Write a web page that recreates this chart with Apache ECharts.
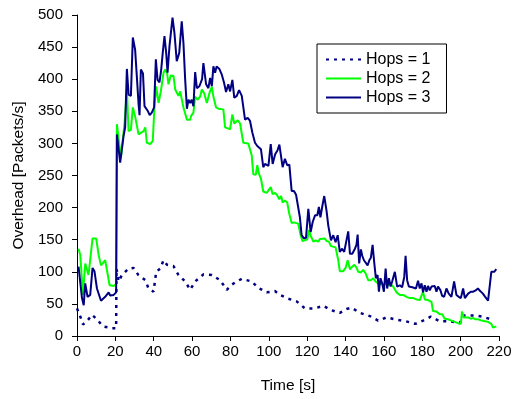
<!DOCTYPE html>
<html>
<head>
<meta charset="utf-8">
<script src="https://cdn.jsdelivr.net/npm/echarts@6/dist/echarts.min.js"></script>
<style>
  html, body { margin: 0; padding: 0; background: #fff; }
  #chart { width: 520px; height: 399px; }
</style>
</head>
<body>
<div id="chart"></div>
<script>
// Overhead measured over time for three hop counts.
const seriesNames = ['Hops = 1', 'Hops = 2', 'Hops = 3'];
const xTicks = [0, 20, 40, 60, 80, 100, 120, 140, 160, 180, 200, 220];
const yTicks = [0, 50, 100, 150, 200, 250, 300, 350, 400, 450, 500];

// Hops = 1
const hops1Time = [0, 2, 3.1, 5.2, 7.8, 10.4, 13.5, 18.2, 20.4, 20.6, 21.7, 23.4, 26.9, 29.5, 32, 35.6, 37.3, 39.9, 41.3, 43.4, 45.1, 46.9, 50.3, 52.9, 56.4, 59, 61.6, 65.9, 70.3, 74.6, 78.1, 80.7, 83.3, 85.9, 91.1, 94.5, 98.9, 103.2, 105.8, 110.2, 114.5, 118.8, 124, 128.4, 132.7, 137, 140.5, 143.2, 147.5, 152.7, 157, 161.4, 165.7, 171.3, 176.4, 180.4, 184.4, 189.1, 194.3, 199.5, 201.8, 207, 211.6, 216.9];
const hops1Value = [43, 28, 18, 23, 33, 26, 15, 12, 12, 105, 85, 95, 105, 106, 95, 87, 74, 69, 100, 105, 118, 111, 109, 95, 85, 72, 85, 96, 95, 87, 72, 80, 85, 89, 85, 75, 68, 70, 64, 58, 54, 43, 43, 47, 40, 36, 42, 44, 36, 31, 24, 29, 26, 23, 19, 24, 30, 23, 23, 20, 32, 32, 30, 25];

// Hops = 2
const hops2Time = [0.8, 1.7, 3.1, 4.3, 6, 6.5, 8.1, 10, 11.3, 12.5, 14.7, 15.5, 17, 19.1, 20.4, 20.8, 21.7, 22.9, 23.8, 24.8, 26, 26.9, 28.1, 29.1, 30.3, 31.2, 32.1, 34.7, 35.6, 36.4, 38.2, 39.5, 40.4, 41.3, 42.5, 43.7, 45.1, 46, 46.9, 47.7, 48.9, 50.3, 51.2, 52.9, 53.8, 54.7, 55.5, 56.4, 57.3, 59, 59.5, 60.7, 61.6, 62.8, 64.2, 65.1, 66.3, 67.7, 69.1, 70.3, 71.1, 72.5, 73.7, 76.3, 77.2, 79.8, 81, 82, 83.8, 85, 86.7, 89.3, 90.2, 91.1, 91.9, 93.2, 94, 94.9, 95.9, 97.1, 98.9, 99.8, 101, 102, 103.3, 104.4, 105.5, 106.4, 107.2, 108.4, 109.6, 110.7, 111.9, 113.1, 115.3, 116.6, 117.5, 118.9, 120.1, 121, 122, 123.2, 124.4, 125.8, 126.6, 127.5, 129.2, 130.1, 131.3, 132.4, 134.8, 136.2, 137, 138.8, 140, 141.1, 142.3, 143.5, 144.6, 145.8, 146.6, 148, 149.2, 150.4, 151.8, 153.2, 154.4, 155.6, 157, 159.6, 160.9, 162.2, 163.7, 164.8, 166.6, 168.3, 170, 171.8, 173.5, 175.3, 177, 178.7, 180.4, 181.3, 183, 184.8, 185.6, 187.4, 189.1, 190.4, 191.7, 193.4, 195.2, 196.9, 198.6, 200.1, 200.7, 201.6, 202.6, 203.9, 205.3, 206.6, 207.8, 209.2, 210.9, 212.7, 214.3, 216, 216.9, 218.6];
const hops2Value = [136, 126, 64, 113, 95, 96, 152, 152, 126, 110, 118, 118, 79, 78, 81, 330, 307, 278, 304, 332, 384, 319, 321, 356, 342, 342, 314, 319, 325, 301, 299, 304, 358, 389, 363, 381, 410, 415, 411, 392, 406, 405, 384, 374, 381, 380, 356, 353, 337, 337, 343, 348, 373, 368, 373, 384, 378, 363, 379, 388, 373, 356, 354, 353, 325, 322, 345, 331, 336, 331, 301, 300, 298, 281, 252, 251, 266, 252, 245, 225, 223, 225, 232, 221, 223, 219, 213, 218, 208, 211, 208, 190, 176, 177, 175, 157, 148, 149, 151, 165, 155, 147, 149, 147, 151, 148, 152, 148, 147, 140, 138, 118, 101, 101, 106, 118, 104, 108, 111, 106, 100, 99, 103, 98, 87, 87, 90, 85, 82, 80, 82, 79, 80, 77, 68, 64, 64, 61, 59, 59, 57, 56, 69, 57, 56, 53, 39, 38, 34, 34, 27, 26, 24, 22, 20, 19, 38, 29, 27, 29, 27, 28, 26, 26, 24, 23, 22, 19, 13, 15];

// Hops = 3
const hops3Time = [0.8, 1.7, 2.6, 3.5, 4.3, 5.5, 6.9, 8.1, 9.1, 10.4, 12.5, 14.7, 16.5, 17.3, 19.1, 20.4, 20.8, 21.7, 22.5, 23.4, 24.3, 25.1, 26, 26.9, 28.1, 29.1, 30.3, 31.2, 32.1, 32.6, 33.3, 34.4, 35.2, 36.1, 37, 37.9, 39, 40.2, 41.1, 42, 43, 43.9, 44.7, 45.6, 46.5, 47.2, 48.2, 49.8, 50.8, 52, 53.3, 54.6, 55.5, 56.4, 57.3, 58.1, 59, 59.8, 60.7, 61.6, 62.5, 63.8, 65.2, 65.9, 67.3, 68.5, 69.4, 70.3, 71.1, 72, 72.8, 74.2, 75.5, 76.7, 77.7, 78.9, 79.8, 81, 82, 83.3, 84.5, 85.9, 87.6, 89, 90.2, 91.4, 92.8, 94, 94.9, 95.9, 97.1, 98, 98.9, 99.8, 101, 102, 103.3, 104.5, 105.5, 106.4, 107.2, 108.4, 109.6, 110.7, 111.9, 113.1, 114.2, 115.1, 116.2, 117.1, 118.3, 119.4, 120.6, 121.8, 122.9, 124.1, 125.3, 126.1, 126.9, 128, 128.9, 130.1, 131, 132.4, 133.6, 134.8, 135.9, 137, 138.2, 139.3, 140.1, 141.4, 142.3, 143.5, 144.9, 145.7, 146.3, 147.1, 148, 148.7, 149.6, 150.6, 151.5, 152.4, 153.2, 154.1, 155, 155.8, 156.7, 157.4, 158.2, 159.1, 160, 160.9, 161.7, 162.6, 163.5, 164.3, 165.7, 166.9, 168.3, 169.5, 170.6, 171.3, 172.1, 173, 173.9, 174.8, 175.6, 176.7, 177.8, 178.7, 179.6, 180.4, 181.3, 182.2, 183, 183.9, 184.8, 185.6, 186.5, 187.4, 188.2, 189.5, 190.3, 191.4, 192.6, 193.8, 195.2, 196.6, 197.8, 199, 200.1, 201.3, 202.2, 203.1, 203.9, 205.3, 206.6, 207.8, 209, 210.2, 211.6, 212.8, 214.3, 215.1, 216, 217.5, 218.6];
const hops3Value = [108, 110, 59, 48, 82, 61, 64, 106, 101, 74, 55, 61, 68, 63, 64, 68, 314, 291, 270, 271, 312, 325, 416, 376, 374, 465, 446, 404, 361, 344, 415, 409, 358, 358, 350, 344, 348, 356, 431, 399, 395, 415, 441, 467, 441, 410, 451, 496, 472, 428, 441, 490, 456, 399, 354, 368, 363, 368, 358, 411, 386, 389, 400, 425, 392, 386, 402, 389, 420, 410, 420, 416, 407, 394, 380, 392, 381, 399, 371, 374, 383, 374, 337, 340, 335, 317, 301, 296, 298, 291, 263, 268, 270, 265, 299, 268, 283, 289, 298, 300, 263, 276, 266, 267, 226, 226, 220, 219, 185, 157, 152, 153, 198, 162, 178, 188, 188, 201, 185, 204, 218, 195, 172, 149, 157, 146, 157, 131, 136, 131, 134, 163, 128, 128, 136, 142, 158, 113, 135, 125, 118, 118, 110, 118, 122, 142, 113, 90, 95, 69, 90, 82, 69, 105, 74, 90, 77, 85, 100, 77, 79, 76, 92, 125, 87, 77, 79, 76, 77, 74, 86, 74, 82, 68, 79, 69, 78, 71, 77, 74, 78, 69, 77, 71, 63, 61, 74, 66, 61, 85, 64, 61, 59, 74, 59, 56, 66, 69, 69, 71, 74, 70, 66, 61, 55, 58, 100, 100, 104];

const zip = (ts, vs) => ts.map((t, i) => [t, vs[i]]);

const FONT = '"Liberation Sans", Arial, sans-serif';
const NAVY = '#000080';
const GREEN = '#00ff00';

const chart = echarts.init(document.getElementById('chart'), null, { renderer: 'canvas' });

chart.setOption({
  animation: false,
  backgroundColor: '#ffffff',
  textStyle: { fontFamily: FONT, color: '#000' },
  grid: { left: 77, right: 21, top: 15, bottom: 61, containLabel: false },
  legend: {
    orient: 'vertical',
    left: 317,
    top: 44,
    data: seriesNames,
    backgroundColor: '#fff',
    borderColor: '#000',
    borderWidth: 1,
    padding: [7, 16, 7, 8],
    itemWidth: 35,
    itemHeight: 14,
    itemGap: 2,
    // only the line sample is shown for each entry, no marker
    itemStyle: { opacity: 0 },
    textStyle: { fontFamily: FONT, fontSize: 16, color: '#000', lineHeight: 17 }
  },
  xAxis: {
    type: 'value',
    min: xTicks[0],
    max: xTicks[xTicks.length - 1],
    interval: 20,
    name: 'Time [s]',
    nameLocation: 'middle',
    nameGap: 42,
    nameTextStyle: { fontFamily: FONT, fontSize: 15.5, color: '#000' },
    axisLine: { show: true, lineStyle: { color: '#000', width: 1 } },
    axisTick: { show: true, length: 5, lineStyle: { color: '#000' } },
    axisLabel: { fontFamily: FONT, fontSize: 15, color: '#000', margin: 8 },
    splitLine: { show: false }
  },
  yAxis: {
    type: 'value',
    min: yTicks[0],
    max: yTicks[yTicks.length - 1],
    interval: 50,
    name: 'Overhead [Packets/s]',
    nameLocation: 'middle',
    nameGap: 43,
    nameTextStyle: { fontFamily: FONT, fontSize: 15.5, color: '#000' },
    axisLine: { show: true, lineStyle: { color: '#000', width: 1 } },
    axisTick: { show: true, length: 5, lineStyle: { color: '#000' } },
    axisLabel: { fontFamily: FONT, fontSize: 15, color: '#000', margin: 14 },
    splitLine: { show: false }
  },
  series: [
    {
      name: seriesNames[0],
      type: 'line',
      data: zip(hops1Time, hops1Value),
      symbol: 'none',
      color: NAVY,
      lineStyle: { color: NAVY, width: 2.5, type: [3, 5] }
    },
    {
      name: seriesNames[1],
      type: 'line',
      data: zip(hops2Time, hops2Value),
      symbol: 'none',
      color: GREEN,
      lineStyle: { color: GREEN, width: 2 }
    },
    {
      name: seriesNames[2],
      type: 'line',
      data: zip(hops3Time, hops3Value),
      symbol: 'none',
      color: NAVY,
      lineStyle: { color: NAVY, width: 2 }
    }
  ]
});
</script>
</body>
</html>
